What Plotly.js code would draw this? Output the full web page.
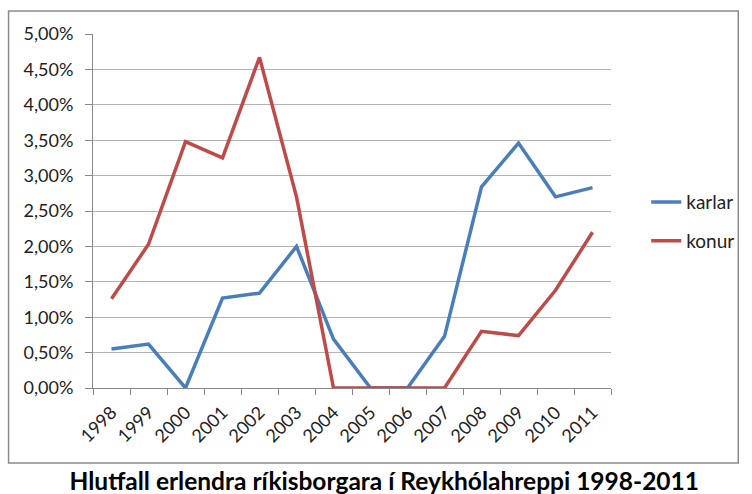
<!DOCTYPE html>
<html>
<head>
<meta charset="utf-8">
<script src="https://cdn.plot.ly/plotly-3.0.1.min.js"></script>
<style>html,body{margin:0;padding:0;background:#fff;}</style>
</head>
<body>
<div id="chart" style="width:752px;height:494px;"></div>
<script>
const years = ['1998','1999','2000','2001','2002','2003','2004','2005','2006','2007','2008','2009','2010','2011'];
const karlar = [0.0055,0.0062,0.0,0.0127,0.0134,0.0200,0.0069,0.0,0.0,0.0073,0.0284,0.0346,0.0270,0.0283];
const konur  = [0.0126,0.0203,0.0348,0.0325,0.0467,0.0270,0.0,0.0,0.0,0.0,0.0080,0.0074,0.0138,0.0220];
const seriesNames = ['karlar','konur'];
const chartTitle = 'Hlutfall erlendra ríkisborgara í Reykhólahreppi 1998-2011';

const font = 'Lato, "Open Sans", sans-serif';
const traces = [
  {x: years, y: karlar, name: seriesNames[0], type:'scatter', mode:'lines',
   line:{color:'#4a7ebb', width:3.5}, legendgroup:'a'},
  {x: years, y: konur, name: seriesNames[1], type:'scatter', mode:'lines',
   line:{color:'#be4b48', width:3.5}, legendgroup:'b'}
];
const layout = {
  width:752, height:494,
  margin:{l:93, r:138, t:34, b:106},
  paper_bgcolor:'#fff', plot_bgcolor:'#fff',
  separators:', ',
  font:{family:font, size:15, color:'#222'},
  showlegend:true,
  legend:{x:1.068, xanchor:'left', y:0.47, yanchor:'middle', traceorder:'grouped', tracegroupgap:11,
          font:{family:font, size:19, color:'#222'}, bgcolor:'rgba(0,0,0,0)'},
  title:{text:'<b>'+chartTitle+'</b>', x:0.511, xanchor:'center', xref:'container', y:0.026, yanchor:'middle',
         font:{family:font, size:24.5, color:'#000'}},
  xaxis:{type:'category', range:[-0.5,13.5], tickangle:-45, ticks:'outside', tickson:'boundaries', ticklen:6,
         ticklabelstandoff:6,
         tickcolor:'#888', showline:true, linecolor:'#888', linewidth:1, showgrid:false,
         tickfont:{family:font, size:18, color:'#222'}, fixedrange:true},
  yaxis:{range:[0,0.05], dtick:0.005, tickformat:'.2%', ticks:'outside', ticklen:7, tickcolor:'#888',
         ticklabelstandoff:8,
         showline:true, linecolor:'#888', linewidth:1, showgrid:true, gridcolor:'#b3b3b3', gridwidth:1,
         zeroline:false, tickfont:{family:font, size:18, color:'#222'}, fixedrange:true},
  shapes:[{type:'rect', xref:'paper', yref:'paper', x0:-0.163, x1:1.2457, y0:-0.2119, y1:1.065,
           line:{color:'#8c8c8c', width:1.5}, fillcolor:'rgba(0,0,0,0)', layer:'below'}]
};
Plotly.newPlot('chart', traces, layout, {displayModeBar:false, staticPlot:true});
</script>
</body>
</html>
